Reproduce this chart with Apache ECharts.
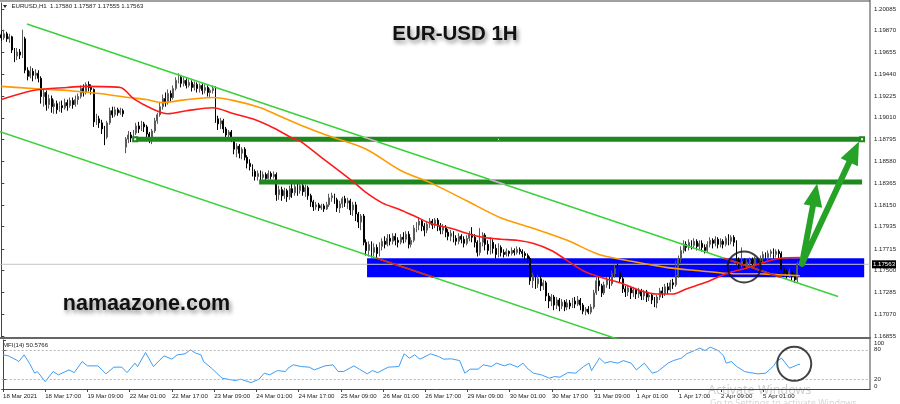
<!DOCTYPE html>
<html><head><meta charset="utf-8">
<script src="https://cdn.jsdelivr.net/npm/echarts@6.0.0/dist/echarts.min.js"></script>
<style>html,body{margin:0;padding:0;background:#fff}#c{width:900px;height:404px}</style>
</head><body><div id="c"></div><script>
// ---------- data ----------
const tickBars = [0,16,32,48,64,80,96,112,128,144,160,176,192,208,224,240,256,272,288];
const tickLabels = ["18 Mar 2021","18 Mar 17:00","19 Mar 09:00","22 Mar 01:00","22 Mar 17:00","23 Mar 09:00","24 Mar 01:00","24 Mar 17:00","25 Mar 09:00","26 Mar 01:00","26 Mar 17:00","29 Mar 09:00","30 Mar 01:00","30 Mar 17:00","31 Mar 09:00","1 Apr 01:00","1 Apr 17:00","2 Apr 09:00","5 Apr 01:00"];
const priceTicks = [1.16855,1.17070,1.17285,1.17500,1.17715,1.17935,1.18150,1.18365,1.18580,1.18795,1.19010,1.19225,1.19440,1.19655,1.19870,1.20085];
const mfiTicks = [0,20,80,100];
// hourly candles: [open, close, low, high]
const candles = [
[1.1983,1.1980,1.1977,1.1987],[1.1980,1.1984,1.1978,1.1988],[1.1984,1.1979,1.1976,1.1986],[1.1979,1.1981,1.1975,1.1984],[1.1981,1.1968,1.1965,1.1982],[1.1968,1.1962,1.1956,1.1970],[1.1962,1.1966,1.1958,1.1970],[1.1966,1.1963,1.1959,1.1969],[1.1963,1.1979,1.1960,1.1988],[1.1979,1.1948,1.1945,1.1981],
[1.1948,1.1942,1.1938,1.1951],[1.1942,1.1947,1.1940,1.1952],[1.1947,1.1943,1.1937,1.1950],[1.1943,1.1945,1.1939,1.1949],[1.1945,1.1940,1.1936,1.1948],[1.1940,1.1922,1.1915,1.1942],[1.1922,1.1926,1.1912,1.1930],[1.1926,1.1914,1.1908,1.1928],[1.1914,1.1920,1.1910,1.1924],[1.1920,1.1912,1.1906,1.1923],
[1.1912,1.1915,1.1905,1.1919],[1.1915,1.1909,1.1905,1.1918],[1.1909,1.1913,1.1907,1.1917],[1.1913,1.1911,1.1906,1.1918],[1.1911,1.1916,1.1909,1.1920],[1.1916,1.1913,1.1908,1.1919],[1.1913,1.1918,1.1911,1.1921],[1.1918,1.1914,1.1910,1.1921],[1.1914,1.1919,1.1912,1.1923],[1.1919,1.1922,1.1914,1.1925],
[1.1922,1.1930,1.1920,1.1933],[1.1930,1.1926,1.1922,1.1934],[1.1926,1.1934,1.1924,1.1936],[1.1934,1.1931,1.1927,1.1937],[1.1931,1.1929,1.1924,1.1934],[1.1929,1.1897,1.1892,1.1930],[1.1897,1.1900,1.1894,1.1905],[1.1900,1.1896,1.1891,1.1903],[1.1896,1.1890,1.1885,1.1899],[1.1890,1.1882,1.1874,1.1893],
[1.1882,1.1896,1.1880,1.1898],[1.1896,1.1908,1.1894,1.1911],[1.1908,1.1904,1.1901,1.1912],[1.1904,1.1909,1.1902,1.1912],[1.1909,1.1906,1.1903,1.1911],[1.1906,1.1908,1.1904,1.1911],[1.1908,1.1905,1.1902,1.1910],[1.1872,1.1880,1.1866,1.1882],[1.1880,1.1884,1.1876,1.1888],[1.1884,1.1881,1.1877,1.1887],
[1.1881,1.1886,1.1879,1.1889],[1.1886,1.1893,1.1884,1.1896],[1.1893,1.1890,1.1886,1.1897],[1.1890,1.1895,1.1888,1.1898],[1.1895,1.1892,1.1887,1.1897],[1.1892,1.1885,1.1880,1.1894],[1.1885,1.1880,1.1876,1.1887],[1.1880,1.1888,1.1875,1.1890],[1.1888,1.1898,1.1886,1.1901],[1.1898,1.1904,1.1895,1.1906],
[1.1904,1.1912,1.1902,1.1916],[1.1912,1.1920,1.1909,1.1924],[1.1920,1.1916,1.1912,1.1926],[1.1916,1.1925,1.1914,1.1929],[1.1925,1.1921,1.1917,1.1928],[1.1921,1.1930,1.1919,1.1933],[1.1930,1.1938,1.1928,1.1941],[1.1938,1.1941,1.1935,1.1945],[1.1941,1.1935,1.1931,1.1943],[1.1935,1.1938,1.1932,1.1941],
[1.1938,1.1933,1.1930,1.1940],[1.1933,1.1936,1.1931,1.1939],[1.1936,1.1931,1.1927,1.1938],[1.1931,1.1934,1.1928,1.1937],[1.1934,1.1930,1.1926,1.1936],[1.1930,1.1933,1.1926,1.1935],[1.1933,1.1928,1.1924,1.1935],[1.1928,1.1931,1.1925,1.1934],[1.1931,1.1926,1.1922,1.1933],[1.1926,1.1928,1.1921,1.1930],
[1.1928,1.1930,1.1925,1.1933],[1.1930,1.1900,1.1896,1.1932],[1.1900,1.1895,1.1889,1.1903],[1.1895,1.1898,1.1890,1.1901],[1.1898,1.1890,1.1886,1.1900],[1.1890,1.1884,1.1880,1.1892],[1.1884,1.1887,1.1879,1.1889],[1.1887,1.1880,1.1877,1.1889],[1.1880,1.1870,1.1865,1.1882],[1.1870,1.1873,1.1862,1.1876],
[1.1873,1.1866,1.1861,1.1875],[1.1866,1.1870,1.1860,1.1872],[1.1870,1.1862,1.1859,1.1872],[1.1862,1.1856,1.1851,1.1864],[1.1856,1.1853,1.1849,1.1860],[1.1853,1.1848,1.1843,1.1855],[1.1848,1.1843,1.1839,1.1850],[1.1843,1.1846,1.1839,1.1849],[1.1846,1.1842,1.1839,1.1849],[1.1842,1.1845,1.1840,1.1848],
[1.1845,1.1841,1.1839,1.1847],[1.1841,1.1846,1.1840,1.1849],[1.1846,1.1843,1.1840,1.1848],[1.1843,1.1845,1.1841,1.1848],[1.1845,1.1825,1.1819,1.1847],[1.1825,1.1830,1.1820,1.1834],[1.1830,1.1824,1.1819,1.1833],[1.1824,1.1829,1.1821,1.1832],[1.1829,1.1823,1.1818,1.1831],[1.1823,1.1831,1.1820,1.1834],
[1.1831,1.1827,1.1822,1.1836],[1.1827,1.1833,1.1824,1.1837],[1.1833,1.1829,1.1824,1.1838],[1.1829,1.1834,1.1826,1.1838],[1.1834,1.1828,1.1824,1.1837],[1.1828,1.1832,1.1823,1.1835],[1.1832,1.1824,1.1820,1.1834],[1.1824,1.1818,1.1813,1.1826],[1.1818,1.1813,1.1809,1.1820],[1.1813,1.1815,1.1810,1.1818],
[1.1815,1.1812,1.1809,1.1817],[1.1812,1.1814,1.1810,1.1816],[1.1814,1.1811,1.1808,1.1816],[1.1811,1.1815,1.1810,1.1818],[1.1815,1.1822,1.1813,1.1826],[1.1822,1.1824,1.1818,1.1827],[1.1824,1.1820,1.1816,1.1826],[1.1820,1.1812,1.1808,1.1822],[1.1812,1.1816,1.1807,1.1819],[1.1816,1.1821,1.1812,1.1823],
[1.1821,1.1817,1.1813,1.1824],[1.1817,1.1819,1.1811,1.1822],[1.1819,1.1810,1.1805,1.1821],[1.1810,1.1815,1.1804,1.1818],[1.1815,1.1806,1.1799,1.1818],[1.1806,1.1798,1.1792,1.1808],[1.1798,1.1804,1.1790,1.1806],[1.1804,1.1778,1.1775,1.1806],[1.1778,1.1770,1.1765,1.1781],[1.1770,1.1776,1.1764,1.1779],
[1.1776,1.1768,1.1763,1.1779],[1.1768,1.1773,1.1764,1.1777],[1.1773,1.1767,1.1762,1.1776],[1.1767,1.1774,1.1764,1.1778],[1.1774,1.1779,1.1770,1.1782],[1.1779,1.1776,1.1772,1.1784],[1.1776,1.1782,1.1774,1.1786],[1.1782,1.1779,1.1775,1.1786],[1.1779,1.1784,1.1776,1.1787],[1.1784,1.1780,1.1775,1.1787],
[1.1780,1.1778,1.1773,1.1783],[1.1778,1.1783,1.1776,1.1786],[1.1783,1.1781,1.1777,1.1788],[1.1781,1.1786,1.1778,1.1789],[1.1786,1.1776,1.1772,1.1789],[1.1776,1.1780,1.1773,1.1783],[1.1780,1.1792,1.1778,1.1795],[1.1792,1.1795,1.1788,1.1798],[1.1795,1.1799,1.1790,1.1803],[1.1799,1.1794,1.1789,1.1801],
[1.1794,1.1790,1.1784,1.1797],[1.1790,1.1796,1.1787,1.1799],[1.1796,1.1799,1.1792,1.1802],[1.1799,1.1795,1.1791,1.1801],[1.1795,1.1800,1.1792,1.1802],[1.1800,1.1794,1.1789,1.1802],[1.1794,1.1790,1.1786,1.1797],[1.1790,1.1793,1.1786,1.1796],[1.1793,1.1788,1.1783,1.1795],[1.1788,1.1784,1.1780,1.1791],
[1.1784,1.1787,1.1779,1.1790],[1.1787,1.1782,1.1778,1.1789],[1.1782,1.1779,1.1775,1.1785],[1.1779,1.1784,1.1776,1.1787],[1.1784,1.1781,1.1777,1.1786],[1.1781,1.1777,1.1773,1.1784],[1.1777,1.1782,1.1775,1.1785],[1.1782,1.1786,1.1779,1.1789],[1.1786,1.1783,1.1778,1.1793],[1.1783,1.1778,1.1773,1.1786],
[1.1778,1.1768,1.1764,1.1780],[1.1768,1.1778,1.1765,1.1792],[1.1778,1.1785,1.1774,1.1788],[1.1785,1.1776,1.1770,1.1787],[1.1776,1.1770,1.1766,1.1780],[1.1770,1.1778,1.1766,1.1783],[1.1778,1.1772,1.1767,1.1781],[1.1772,1.1766,1.1762,1.1776],[1.1766,1.1773,1.1763,1.1777],[1.1773,1.1768,1.1764,1.1775],
[1.1768,1.1766,1.1763,1.1771],[1.1766,1.1769,1.1764,1.1772],[1.1769,1.1767,1.1764,1.1770],[1.1767,1.1770,1.1765,1.1773],[1.1770,1.1768,1.1765,1.1772],[1.1768,1.1771,1.1766,1.1774],[1.1771,1.1769,1.1766,1.1773],[1.1769,1.1767,1.1763,1.1771],[1.1767,1.1765,1.1761,1.1769],[1.1765,1.1762,1.1758,1.1767],
[1.1762,1.1740,1.1736,1.1764],[1.1740,1.1745,1.1733,1.1748],[1.1745,1.1737,1.1732,1.1748],[1.1737,1.1742,1.1733,1.1746],[1.1742,1.1735,1.1730,1.1745],[1.1735,1.1738,1.1731,1.1741],[1.1738,1.1725,1.1720,1.1740],[1.1725,1.1720,1.1713,1.1728],[1.1720,1.1724,1.1715,1.1727],[1.1724,1.1716,1.1711,1.1726],
[1.1716,1.1721,1.1712,1.1724],[1.1721,1.1715,1.1710,1.1723],[1.1715,1.1719,1.1712,1.1722],[1.1719,1.1714,1.1710,1.1721],[1.1714,1.1718,1.1711,1.1722],[1.1718,1.1715,1.1712,1.1721],[1.1715,1.1720,1.1713,1.1723],[1.1720,1.1717,1.1713,1.1724],[1.1717,1.1721,1.1715,1.1725],[1.1721,1.1716,1.1711,1.1723],
[1.1716,1.1710,1.1707,1.1718],[1.1710,1.1712,1.1706,1.1714],[1.1712,1.1709,1.1707,1.1715],[1.1709,1.1714,1.1707,1.1717],[1.1714,1.1728,1.1712,1.1731],[1.1728,1.1740,1.1726,1.1744],[1.1740,1.1735,1.1730,1.1745],[1.1735,1.1728,1.1724,1.1737],[1.1728,1.1736,1.1726,1.1739],[1.1736,1.1741,1.1733,1.1744],
[1.1741,1.1737,1.1732,1.1745],[1.1737,1.1747,1.1735,1.1750],[1.1747,1.1752,1.1743,1.1756],[1.1752,1.1748,1.1744,1.1757],[1.1748,1.1742,1.1738,1.1752],[1.1742,1.1732,1.1728,1.1744],[1.1732,1.1729,1.1724,1.1735],[1.1729,1.1733,1.1725,1.1736],[1.1733,1.1728,1.1722,1.1735],[1.1728,1.1731,1.1724,1.1734],
[1.1731,1.1727,1.1722,1.1733],[1.1727,1.1730,1.1723,1.1733],[1.1730,1.1725,1.1721,1.1732],[1.1725,1.1729,1.1721,1.1731],[1.1729,1.1724,1.1719,1.1731],[1.1724,1.1726,1.1720,1.1729],[1.1726,1.1721,1.1717,1.1728],[1.1721,1.1718,1.1714,1.1724],[1.1718,1.1724,1.1713,1.1726],[1.1724,1.1730,1.1721,1.1733],
[1.1730,1.1727,1.1723,1.1734],[1.1727,1.1734,1.1725,1.1737],[1.1734,1.1731,1.1727,1.1738],[1.1731,1.1738,1.1729,1.1741],[1.1738,1.1736,1.1732,1.1742],[1.1736,1.1745,1.1734,1.1760],[1.1745,1.1762,1.1743,1.1765],[1.1762,1.1770,1.1758,1.1774],[1.1770,1.1776,1.1767,1.1780],[1.1776,1.1773,1.1769,1.1779],
[1.1773,1.1778,1.1770,1.1781],[1.1778,1.1775,1.1771,1.1780],[1.1775,1.1779,1.1772,1.1782],[1.1779,1.1774,1.1770,1.1781],[1.1774,1.1777,1.1771,1.1780],[1.1777,1.1773,1.1769,1.1780],[1.1773,1.1770,1.1767,1.1776],[1.1770,1.1776,1.1768,1.1779],[1.1776,1.1780,1.1773,1.1783],[1.1780,1.1777,1.1772,1.1782],
[1.1777,1.1781,1.1774,1.1784],[1.1781,1.1776,1.1772,1.1783],[1.1776,1.1779,1.1773,1.1782],[1.1779,1.1776,1.1772,1.1781],[1.1776,1.1782,1.1774,1.1784],[1.1782,1.1779,1.1775,1.1786],[1.1779,1.1783,1.1776,1.1785],[1.1783,1.1778,1.1774,1.1785],[1.1778,1.1760,1.1756,1.1780],[1.1760,1.1756,1.1752,1.1763],
[1.1756,1.1759,1.1753,1.1773],[1.1759,1.1755,1.1751,1.1762],[1.1755,1.1758,1.1752,1.1761],[1.1758,1.1760,1.1754,1.1763],[1.1760,1.1757,1.1753,1.1763],[1.1757,1.1761,1.1754,1.1764],[1.1761,1.1758,1.1754,1.1763],[1.1758,1.1762,1.1755,1.1765],[1.1762,1.1766,1.1758,1.1769],[1.1766,1.1763,1.1759,1.1768],
[1.1763,1.1767,1.1760,1.1770],[1.1767,1.1769,1.1763,1.1771],[1.1769,1.1766,1.1762,1.1772],[1.1766,1.1769,1.1763,1.1771],[1.1769,1.1767,1.1762,1.1771],[1.1767,1.1752,1.1748,1.1769],[1.1752,1.1748,1.1744,1.1755],[1.1748,1.1746,1.1742,1.1751],[1.1746,1.1749,1.1743,1.1752],[1.1749,1.1744,1.1740,1.1751],
[1.1744,1.1741,1.1738,1.1747],[1.1741,1.1757,1.1738,1.1759],[1.17580,1.17563,1.17555,1.17587]
];
// moving averages [bar, price]
const redMA = [[0,1.1919],[12,1.1928],[25,1.1931],[32,1.1932],[45,1.1931],[50,1.1920],[57,1.1910],[63,1.1905],[70,1.1908],[80,1.1911],[88,1.1905],[95,1.1900],[103,1.1891],[110,1.1881],[113,1.1878],[121,1.1862],[128,1.1848],[133,1.1838],[138,1.1827],[144,1.1817],[151,1.1810],[157,1.1803],[163,1.1796],[170,1.1792],[176,1.1787],[182,1.1783],[189,1.1781],[195,1.1780],[201,1.1777],[208,1.1770],[214,1.1760],[220,1.1750],[226,1.1744],[234,1.1738],[242,1.1730],[248,1.1727],[254,1.1727],[259,1.1732],[267,1.1739],[274,1.1747],[281,1.1752],[287,1.1757],[294,1.1762],[302,1.1763]];
const orangeMA = [[0,1.1932],[12,1.1930],[25,1.1928],[37,1.1925],[48,1.1921],[55,1.1919],[61,1.1916],[70,1.1919],[80,1.1921],[88,1.1918],[98,1.1911],[105,1.1903],[113,1.1894],[125,1.1882],[138,1.1870],[151,1.1849],[163,1.1836],[176,1.1819],[189,1.1802],[201,1.1792],[214,1.1780],[226,1.1766],[239,1.1759],[252,1.1753],[264,1.1750],[277,1.1747],[286,1.1747],[294,1.1746],[302,1.1745]];
// MFI(14) [bar, value]
const mfi = [[0,69.7],[2,67.7],[5,59.5],[6,56],[8,69.7],[10,52.8],[12,32.3],[13,35.6],[16,15.1],[19,35.6],[21,28.8],[25,39],[27,33.5],[30,56],[32,47.2],[36,47.2],[39,30.9],[42,44.6],[45,44.6],[47,33.5],[50,52.8],[51,45.8],[54,74.4],[57,45.8],[61,67.7],[64,60.9],[66,69.7],[69,71.8],[71,80],[73,73.2],[75,69.7],[76,56],[79,42.5],[83,22.1],[88,17.2],[90,20],[94,13.1],[97,20],[99,32.3],[101,28.8],[104,37.6],[107,35.6],[108,42.5],[110,49.3],[113,45.8],[116,44.6],[118,39],[122,47.2],[125,49.3],[127,35.6],[129,35.6],[133,47.2],[135,40.5],[138,30.9],[140,37.6],[142,33.5],[146,44.6],[150,45.8],[152,71.8],[154,63],[156,69.7],[158,60.9],[162,71.8],[165,66.3],[167,60.9],[170,61.5],[173,58],[175,32.3],[177,40.5],[180,40.5],[182,49.3],[185,45.8],[187,52.8],[190,47.2],[192,51.3],[195,44.6],[197,52.8],[199,40.5],[201,32.3],[204,28.8],[207,22.1],[209,25.4],[211,24.1],[214,33.5],[217,32.3],[220,45.8],[222,52.8],[223,37.6],[226,63],[228,52.8],[230,56],[233,52.8],[235,58],[238,52.8],[240,39],[243,52.8],[246,32.3],[248,35.6],[252,52.8],[254,58],[257,63],[259,71.8],[262,78.5],[264,83.4],[266,78.5],[268,85.5],[271,78.5],[273,67.7],[274,52.8],[276,56],[278,45.8],[281,35.6],[283,33.5],[286,30.9],[289,32.3],[292,47.2],[293,56],[295,63],[298,42.5],[299,44.6],[301,49.3],[302,50.58]];
// drawn objects (bar index, price)
const upperChannel = [[9.7,1.19937],[316.4,1.17245]];
const lowerChannel = [[-0.5,1.18873],[240,1.16763]];
const resistance1 = [[50.6,1.18797],[188,1.18797],[325.5,1.18797]];
const resistance2 = [[97.5,1.18376],[325.5,1.18376]];
const supportZone = {from:138.3, to:326.3, top:1.17623, bottom:1.17435};
const lastPrice = 1.17563;
const arrowStart = [302.8,1.17571];
const arrowEnds = [[307.7,1.18250],[322.5,1.18674]];
const circleMain = [280.9,1.17537];
const circleMfi = [299.8,51.3];

// ---------- chart ----------
const F = '"Liberation Sans", Arial, sans-serif';
const X_MIN = -0.5, X_MAX = 328.5;
const BAR_HALF = 0.00025; // half thickness of the horizontal levels, in price

function bandSegment(line, lo, hi, xMin, xMax) {
  const [[x0,y0],[x1,y1]] = line;
  const k = (y1-y0)/(x1-x0);
  const xa = x0 + (hi-y0)/k, xb = x0 + (lo-y0)/k;
  const s = Math.max(Math.min(xa,xb), xMin, Math.min(x0,x1));
  const e = Math.min(Math.max(xa,xb), xMax, Math.max(x0,x1));
  if (s >= e) return null;
  return [[s, y0+k*(s-x0)], [e, y0+k*(e-x0)]];
}
const xorRed = [], xorPink = [];
[upperChannel, lowerChannel].forEach(l => {
  const s = bandSegment(l, supportZone.bottom, supportZone.top, supportZone.from, supportZone.to);
  if (s) xorRed.push(s);
  [resistance1, resistance2].forEach(r => {
    const p = r[0][1];
    const t = bandSegment(l, p-BAR_HALF, p+BAR_HALF, r[0][0], r[r.length-1][0]);
    if (t) xorPink.push(t);
  });
});

const segSeries = (segs, color, z) => segs.map(s => ({
  type:'line', xAxisIndex:0, yAxisIndex:0, data:s, symbol:'none', silent:true, z,
  lineStyle:{color, width:1.5}
}));

const chart = echarts.init(document.getElementById('c'), null, {renderer:'canvas'});
chart.setOption({
  animation:false,
  backgroundColor:'#ffffff',
  grid:[{left:0, top:3, width:870, height:335},{left:0, top:340, width:870, height:49}],
  xAxis:[
    {type:'value', gridIndex:0, min:X_MIN, max:X_MAX, axisLabel:{show:false}, axisTick:{show:false}, splitLine:{show:false},
     axisLine:{show:true, onZero:false, lineStyle:{color:'#666', width:2}}},
    {type:'value', gridIndex:1, min:X_MIN, max:X_MAX, splitLine:{show:false},
     axisLine:{show:true, onZero:false, lineStyle:{color:'#444', width:1}},
     axisTick:{show:true, customValues:tickBars, length:3, lineStyle:{color:'#444'}},
     axisLabel:{customValues:tickBars, formatter:v=>tickLabels[tickBars.indexOf(Math.round(v))]||'', align:'left', fontSize:6.1, fontFamily:F, color:'#222', margin:4}}
  ],
  yAxis:[
    {type:'value', gridIndex:0, position:'right', min:1.16835, max:1.20144, splitLine:{show:false},
     axisLine:{show:true, lineStyle:{color:'#444'}},
     axisTick:{show:true, customValues:priceTicks, length:3, lineStyle:{color:'#444'}},
     axisLabel:{customValues:priceTicks, formatter:v=>v.toFixed(5), fontSize:6.1, fontFamily:F, color:'#222', margin:4}},
    {type:'value', gridIndex:1, position:'right', min:0, max:100, splitLine:{show:false},
     axisLine:{show:true, lineStyle:{color:'#444'}},
     axisTick:{show:true, customValues:mfiTicks, length:3, lineStyle:{color:'#444'}},
     axisLabel:{customValues:mfiTicks, fontSize:6.1, fontFamily:F, color:'#222', margin:4, verticalAlignMinLabel:'bottom', verticalAlignMaxLabel:'top'}}
  ],
  series:[
    {type:'line', xAxisIndex:0, yAxisIndex:0, data:[], z:1, silent:true,
     markArea:{silent:true, itemStyle:{color:'#0000ff'},
       data:[[{coord:[supportZone.from, supportZone.top]},{coord:[supportZone.to, supportZone.bottom]}]]}},
    {type:'candlestick', xAxisIndex:0, yAxisIndex:0, z:2,
     data:candles.map((c,i)=>[i,c[0],c[1],c[2],c[3]]), encode:{x:0, y:[1,2,3,4]},
     barWidth:1.4, itemStyle:{color:'#bdbdbd', color0:'#000', borderColor:'#5a5a5a', borderColor0:'#000', borderWidth:1}},
    {type:'line', xAxisIndex:0, yAxisIndex:0, z:2, silent:true, symbol:'none',
     data:[[X_MIN,lastPrice],[X_MAX,lastPrice]], lineStyle:{color:'#c4c4c4', width:1},
     endLabel:{show:true, formatter:lastPrice.toFixed(5), backgroundColor:'#000', color:'#fff', fontSize:6.1, fontFamily:F, padding:[1,1], distance:2}},
    {type:'line', xAxisIndex:0, yAxisIndex:0, z:3, silent:true,
     data:resistance1.map((p,k)=>({value:p, symbol: k===1?'rect':'emptyRect', symbolSize: k===1?2:4,
       itemStyle:{color: k===1?'#ffffff':'#1e871e', borderColor:'#1e871e'}})),
     showSymbol:true, lineStyle:{color:'#1e871e', width:5}},
    {type:'line', xAxisIndex:0, yAxisIndex:0, z:3, silent:true, data:resistance2, symbol:'none', lineStyle:{color:'#1e871e', width:5}},
    {type:'line', xAxisIndex:0, yAxisIndex:0, z:4, silent:true, data:orangeMA, symbol:'none', smooth:0.3, lineStyle:{color:'#ff9a00', width:1.6}},
    {type:'line', xAxisIndex:0, yAxisIndex:0, z:4, silent:true, data:redMA, symbol:'none', smooth:0.3, lineStyle:{color:'#ff1a1a', width:1.6}},
    {type:'line', xAxisIndex:0, yAxisIndex:0, z:5, silent:true, data:upperChannel, symbol:'none', lineStyle:{color:'#3ad13a', width:1.5}},
    {type:'line', xAxisIndex:0, yAxisIndex:0, z:5, silent:true, data:lowerChannel, symbol:'none', lineStyle:{color:'#3ad13a', width:1.5}},
    ...segSeries(xorRed, '#e01818', 6),
    ...segSeries(xorPink, '#dba6d6', 6),
    {type:'line', xAxisIndex:0, yAxisIndex:0, data:[], z:7, silent:true,
     markLine:{silent:true, animation:false, label:{show:false},
       lineStyle:{color:'#26a226', width:6, type:'solid', cap:'round'},
       data:arrowEnds.map(e=>[{coord:arrowStart, symbol:'circle', symbolSize:6},{coord:e, symbol:'triangle', symbolSize:[19,23]}])}},
    {type:'scatter', xAxisIndex:0, yAxisIndex:0, z:8, silent:true, data:[circleMain], symbol:'circle', symbolSize:[33,31],
     itemStyle:{color:'rgba(0,0,0,0)', borderColor:'#111', borderWidth:2}},
    {type:'line', xAxisIndex:1, yAxisIndex:1, z:3, silent:true, data:mfi, symbol:'none', lineStyle:{color:'#3d9df5', width:1},
     markLine:{silent:true, symbol:'none', label:{show:false}, lineStyle:{color:'#b5b5b5', type:[2,2], width:1},
       data:[{yAxis:20},{yAxis:80}]}},
    {type:'scatter', xAxisIndex:1, yAxisIndex:1, z:8, silent:true, data:[circleMfi], symbol:'circle', symbolSize:[34,34],
     itemStyle:{color:'rgba(0,0,0,0)', borderColor:'#111', borderWidth:2}}
  ],
  graphic:[
    {type:'rect', shape:{x:0, y:0, width:870, height:2}, style:{fill:'#a0a0a0'}, silent:true},
    {type:'rect', shape:{x:869.5, y:0, width:1, height:390}, style:{fill:'#444'}, silent:true},
    {type:'polygon', shape:{points:[[3,5],[7,5],[5,8]]}, style:{fill:'#222'}, silent:true},
    {type:'text', x:11.5, y:6.5, silent:true, style:{text:'EURUSD,H1  1.17580 1.17587 1.17555 1.17563', font:'6.1px '+F, fill:'#222', verticalAlign:'middle'}},
    {type:'text', x:3, y:345, silent:true, style:{text:'MFI(14) 50.5766', font:'6.1px '+F, fill:'#222', verticalAlign:'middle'}},
    {type:'text', x:455, y:34.6, silent:true, style:{text:'EUR-USD 1H', font:'bold 20.5px '+F, fill:'#111', align:'center', verticalAlign:'middle',
      textShadowColor:'rgba(0,0,0,0.45)', textShadowBlur:4, textShadowOffsetX:2, textShadowOffsetY:3}},
    {type:'text', x:146.5, y:303.6, silent:true, style:{text:'namaazone.com', font:'bold 21.5px '+F, fill:'#111', align:'center', verticalAlign:'middle',
      textShadowColor:'rgba(0,0,0,0.45)', textShadowBlur:4, textShadowOffsetX:2, textShadowOffsetY:3}},
    {type:'text', x:708, y:390.5, silent:true, style:{text:'Activate Windows', font:'12.5px "Noto Sans", sans-serif', fill:'#cfcfcf', verticalAlign:'middle'}},
    {type:'text', x:710, y:399, silent:true, style:{text:'Go to Settings to activate Windows.', font:'9px "Noto Sans", sans-serif', fill:'#d6d6d6', verticalAlign:'top'}}
  ]
});
</script></body></html>
